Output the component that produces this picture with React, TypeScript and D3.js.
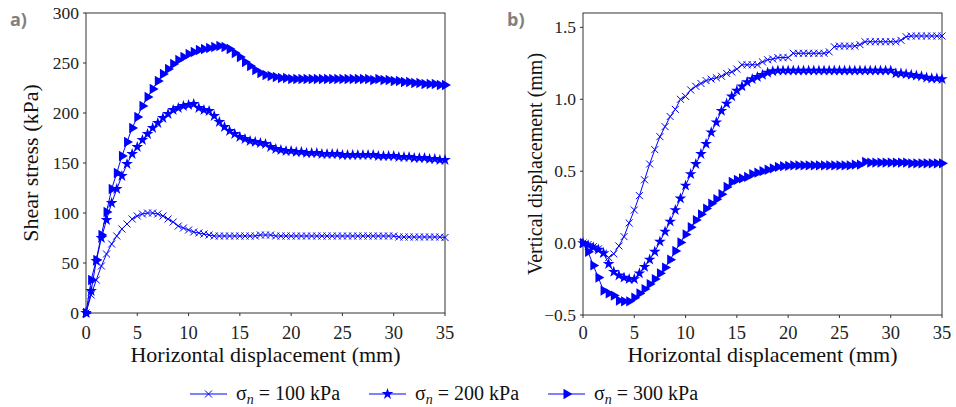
import React from "react";
import * as d3 from "d3";

const X_MM = [
  0, 0.5, 1, 1.5, 2, 2.5, 3, 3.5, 4, 4.5,
  5, 5.5, 6, 6.5, 7, 7.5, 8, 8.5, 9, 9.5,
  10, 10.5, 11, 11.5, 12, 12.5, 13, 13.5, 14, 14.5,
  15, 15.5, 16, 16.5, 17, 17.5, 18, 18.5, 19, 19.5,
  20, 20.5, 21, 21.5, 22, 22.5, 23, 23.5, 24, 24.5,
  25, 25.5, 26, 26.5, 27, 27.5, 28, 28.5, 29, 29.5,
  30, 30.5, 31, 31.5, 32, 32.5, 33, 33.5, 34, 34.5,
  35,
];

const SHEAR_100 = [
  0, 18, 33, 47, 59, 69, 77, 84, 89, 94,
  97, 99, 100, 100, 99, 97, 94, 91, 87, 85,
  83, 81, 80, 79, 78, 77, 77, 77, 77, 77,
  77, 77, 77, 77, 78, 78, 78, 77, 77, 77,
  77, 77, 77, 77, 77, 77, 77, 77, 77, 77,
  77, 77, 77, 77, 77, 77, 77, 77, 77, 77,
  77, 76, 76, 76, 76, 76, 76, 76, 76, 76,
  75.5,
];
const SHEAR_200 = [
  0, 22, 52, 75, 93, 110, 124, 137, 149, 159,
  166, 173, 179, 185, 190, 195, 199, 203, 205, 207,
  208, 209, 205, 203, 202, 197, 191, 186, 182, 179,
  176, 174, 172, 171, 170, 169, 166, 164, 163, 162,
  162, 161, 161, 160, 160, 160, 159, 159, 159, 159,
  158, 158, 158, 158, 158, 158, 158, 157, 157, 157,
  157, 156, 156, 156, 155, 155, 155, 154, 154, 153,
  153,
];
const SHEAR_300 = [
  0, 33, 53, 78, 101, 124, 140, 157, 171, 185,
  196, 207, 216, 224, 232, 239, 244, 249, 253, 256,
  259, 261, 263, 264, 265, 266, 267, 266, 264, 260,
  256, 251, 247, 243, 240, 238, 237, 236, 235, 235,
  234, 234, 234, 234, 234, 234, 234, 234, 234, 234,
  234, 234, 234, 234, 234, 234, 233, 234, 233, 233,
  232, 232, 231, 231, 230, 230, 229, 229, 229, 228,
  228,
];

const VERT_100 = [
  0, -0.01, -0.025, -0.04, -0.07, -0.1, -0.075, -0.02, 0.045, 0.14,
  0.23, 0.33, 0.44, 0.55, 0.65, 0.74, 0.81, 0.88, 0.93, 1.0,
  1.02, 1.065, 1.09, 1.11, 1.13, 1.14, 1.15, 1.16, 1.18, 1.19,
  1.21, 1.24, 1.24, 1.24, 1.24, 1.26, 1.275, 1.28, 1.29, 1.29,
  1.29, 1.32, 1.32, 1.32, 1.32, 1.32, 1.32, 1.32, 1.33, 1.365,
  1.37, 1.37, 1.37, 1.37, 1.38, 1.4, 1.4, 1.4, 1.4, 1.4,
  1.4, 1.4, 1.41, 1.435, 1.44, 1.44, 1.44, 1.44, 1.44, 1.44,
  1.44,
];
const VERT_200 = [
  0, -0.015, -0.03, -0.045, -0.07, -0.145, -0.2, -0.225, -0.24, -0.25,
  -0.25, -0.21, -0.165, -0.115, -0.06, 0.01, 0.08, 0.15, 0.23, 0.31,
  0.4, 0.48, 0.55, 0.62, 0.69, 0.77, 0.84, 0.92, 0.97, 1.02,
  1.06, 1.09, 1.12, 1.14, 1.155, 1.17, 1.185, 1.195, 1.2, 1.2,
  1.2, 1.2, 1.2, 1.2, 1.2, 1.2, 1.2, 1.2, 1.2, 1.2,
  1.2, 1.2, 1.2, 1.2, 1.2, 1.2, 1.2, 1.2, 1.2, 1.2,
  1.2, 1.18, 1.18, 1.175, 1.17, 1.165, 1.16, 1.15, 1.145, 1.145,
  1.14,
];
const VERT_300 = [
  0, -0.06, -0.155, -0.24, -0.33, -0.35, -0.365, -0.4, -0.405, -0.405,
  -0.38, -0.35, -0.32, -0.285, -0.25, -0.21, -0.17, -0.115, -0.055, 0.005,
  0.06, 0.11, 0.16, 0.2, 0.24, 0.275, 0.305, 0.34, 0.39, 0.425,
  0.44, 0.45, 0.46, 0.48, 0.49, 0.5, 0.51, 0.52, 0.53, 0.535,
  0.537, 0.54, 0.54, 0.54, 0.54, 0.54, 0.54, 0.54, 0.54, 0.54,
  0.54, 0.54, 0.54, 0.545, 0.545, 0.565, 0.56, 0.56, 0.56, 0.56,
  0.56, 0.56, 0.56, 0.56, 0.555, 0.555, 0.555, 0.555, 0.555, 0.555,
  0.555,
];

const X_TICKS = [0, 5, 10, 15, 20, 25, 30, 35];
const SHEAR_TICKS = [0, 50, 100, 150, 200, 250, 300];
const VERT_TICKS = [-0.5, 0, 0.5, 1.0, 1.5];
const LEGEND_LABELS = ["100 kPa", "200 kPa", "300 kPa"];
const MARKERS = ["times", "star", "triangle"];

const BLUE = "#0000ff";
const SERIF = "'Liberation Serif', 'Times New Roman', serif";
const AXIS = "#333";

function markerPath(kind: string) {
  if (kind === "times") return d3.symbol(d3.symbolTimes, 34)()!;
  if (kind === "star") return d3.symbol(d3.symbolStar, 42)()!;
  return d3.symbol(d3.symbolTriangle, 46)()!;
}

function Marker({ kind, x, y }: { kind: string; x: number; y: number }) {
  const d = markerPath(kind);
  if (kind === "times")
    return <path d={d} transform={`translate(${x},${y})`} fill="none" stroke={BLUE} strokeWidth={1} />;
  if (kind === "triangle")
    return <path d={d} transform={`translate(${x},${y}) rotate(90)`} fill={BLUE} />;
  return <path d={d} transform={`translate(${x},${y})`} fill={BLUE} />;
}

type PanelProps = {
  left: number;
  right: number;
  top: number;
  bottom: number;
  yDomain: [number, number];
  yTicks: number[];
  yFmt: (v: number) => string;
  series: number[][];
  yLabel: string;
  yLabelX: number;
  yLabelSize: number;
  tag: string;
  tagX: number;
};

function Panel(p: PanelProps) {
  const x = d3.scaleLinear().domain([0, 35]).range([p.left, p.right]);
  const y = d3.scaleLinear().domain(p.yDomain).range([p.bottom, p.top]);
  const line = d3
    .line<number>()
    .x((_, i) => x(X_MM[i]))
    .y((v) => y(v));
  return (
    <g>
      <rect
        x={p.left}
        y={p.top}
        width={p.right - p.left}
        height={p.bottom - p.top}
        fill="none"
        stroke={AXIS}
        strokeWidth={1}
      />
      {X_TICKS.map((t) => (
        <g key={"x" + t}>
          <line x1={x(t)} x2={x(t)} y1={p.bottom} y2={p.bottom + 3} stroke={AXIS} />
          <text x={x(t)} y={339} textAnchor="middle" fontSize={18.5} fontFamily={SERIF} fill="#222">
            {t}
          </text>
        </g>
      ))}
      {p.yTicks.map((t) => (
        <g key={"y" + t}>
          <line x1={p.left - 3} x2={p.left} y1={y(t)} y2={y(t)} stroke={AXIS} />
          <text x={p.left - 7} y={y(t) + 6} textAnchor="end" fontSize={17.5} fontFamily={SERIF} fill="#222">
            {p.yFmt(t)}
          </text>
        </g>
      ))}
      <text
        x={(p.left + p.right) / 2}
        y={362}
        textAnchor="middle"
        fontSize={22}
        fontFamily={SERIF}
        fill="#111"
      >
        Horizontal displacement (mm)
      </text>
      <text
        transform={`translate(${p.yLabelX},${(p.top + p.bottom) / 2}) rotate(-90)`}
        textAnchor="middle"
        fontSize={p.yLabelSize}
        fontFamily={SERIF}
        fill="#111"
      >
        {p.yLabel}
      </text>
      <text x={p.tagX} y={26} fontSize={18} fontWeight="bold" fontFamily="'Open Sans', sans-serif" fill="#808080">
        {p.tag}
      </text>
      {p.series.map((s, si) => (
        <g key={si}>
          <path d={line(s)!} fill="none" stroke={BLUE} strokeWidth={1} />
          {s.map((v, i) => (
            <Marker key={i} kind={MARKERS[si]} x={x(X_MM[i])} y={y(v)} />
          ))}
        </g>
      ))}
    </g>
  );
}

export default function App() {
  const legendX = [190, 369, 548];
  const legendY = 394;
  return (
    <svg
      width={956}
      height={407}
      style={{ position: "absolute", left: 0, top: 0, background: "#fff" }}
    >
      <rect width={956} height={407} fill="#fff" />
      <Panel
        left={86}
        right={445}
        top={13}
        bottom={313}
        yDomain={[0, 300]}
        yTicks={SHEAR_TICKS}
        yFmt={(v) => String(v)}
        series={[SHEAR_100, SHEAR_200, SHEAR_300]}
        yLabel="Shear stress (kPa)"
        yLabelX={37.5}
        yLabelSize={22}
        tag="a)"
        tagX={10}
      />
      <Panel
        left={583}
        right={942}
        top={13}
        bottom={315}
        yDomain={[-0.5, 1.6]}
        yTicks={VERT_TICKS}
        yFmt={(v) => (v < 0 ? "\u2212" : "") + Math.abs(v).toFixed(1)}
        series={[VERT_100, VERT_200, VERT_300]}
        yLabel="Vertical displacement (mm)"
        yLabelX={542}
        yLabelSize={20}
        tag="b)"
        tagX={507}
      />
      {LEGEND_LABELS.map((lab, i) => (
        <g key={lab}>
          <line x1={legendX[i]} x2={legendX[i] + 37} y1={legendY} y2={legendY} stroke={BLUE} />
          <Marker kind={MARKERS[i]} x={legendX[i] + 18.5} y={legendY} />
          <text x={legendX[i] + 46} y={legendY + 6} fontSize={20} fontFamily={SERIF} fill="#111">
            σ
            <tspan fontStyle="italic" fontSize={14} dy={4}>
              n
            </tspan>
            <tspan dy={-4}> = {lab}</tspan>
          </text>
        </g>
      ))}
    </svg>
  );
}
